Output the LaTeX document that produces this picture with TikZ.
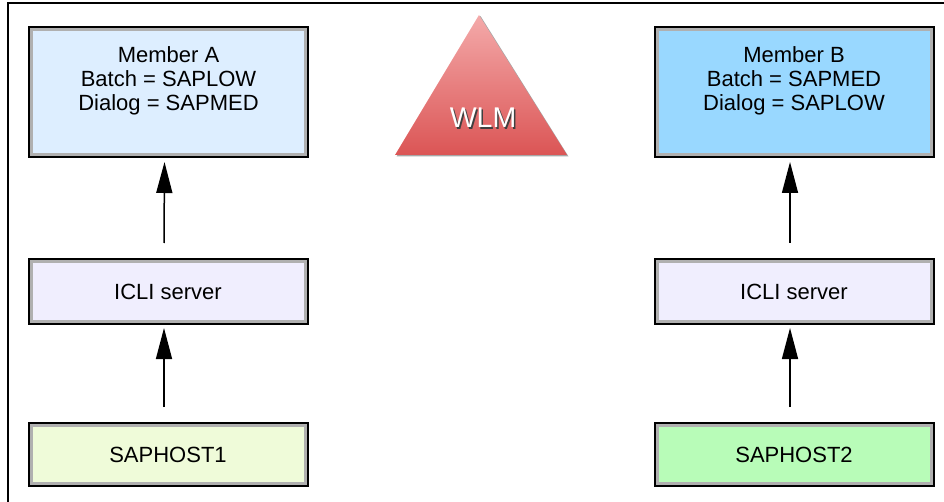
\documentclass[tikz,border=0pt]{standalone}
\usepackage{fontspec}
\setmainfont{Liberation Sans}
\usetikzlibrary{arrows.meta}

\definecolor{memAfill}{HTML}{DDEEFF}
\definecolor{memBfill}{HTML}{99D8FF}
\definecolor{iclifill}{HTML}{F0EEFE}
\definecolor{hostAfill}{HTML}{EFFBD9}
\definecolor{hostBfill}{HTML}{B8FCB8}
\definecolor{rimgray}{HTML}{B0B0B0}
\definecolor{wlmtop}{HTML}{F4AAAA}
\definecolor{wlmbot}{HTML}{DB5555}

\begin{document}
\begin{tikzpicture}[x=1pt, y=-1pt,
  box/.style={draw=black, line width=2pt, minimum width=279pt,
    path picture={\draw[line width=8pt, rimgray] (path picture bounding box.south west) rectangle (path picture bounding box.north east);}},
  boxtext/.style={align=center, font=\fontsize{22}{24}\selectfont},
  uparrow/.style={-{Triangle[length=31pt,width=16pt]}, line width=1.5pt}]

  \useasboundingbox (0,0) rectangle (944,502);

  % Frame
  \draw[line width=1.5pt] (8,502) -- (8,3) -- (944,3);

  % Left column
  \node[box, fill=memAfill, minimum height=130pt] (memA) at (168.5,92) {};
  \node[boxtext] (memAtxt) at ([yshift=11pt]memA.center) {Member A\\Batch = SAPLOW\\Dialog = SAPMED};
  \node[box, fill=iclifill, minimum height=65pt, boxtext] (icliA) at (168,291.5) {ICLI server};
  \node[box, fill=hostAfill, minimum height=63pt, boxtext] (hostA) at (168,454.5) {SAPHOST1};

  % Right column
  \node[box, fill=memBfill, minimum height=130pt] (memB) at (794,92) {};
  \node[boxtext] (memBtxt) at ([yshift=11pt]memB.center) {Member B\\Batch = SAPMED\\Dialog = SAPLOW};
  \node[box, fill=iclifill, minimum height=65pt, boxtext] (icliB) at (794,291.5) {ICLI server};
  \node[box, fill=hostBfill, minimum height=63pt, boxtext] (hostB) at (794,454.5) {SAPHOST2};

  % WLM triangle
  \fill[gray!70] (480.5,16) -- (568.5,156.5) -- (396.5,156.5) -- cycle;
  \shade[top color=wlmtop, bottom color=wlmbot] (479,15) -- (567,155) -- (395,155) -- cycle;
  \node[font=\fontsize{28.5}{30}\selectfont, text=black!75] (wlmshade) at (484.5,119.5) {WLM};
  \node[font=\fontsize{28.5}{30}\selectfont, text=white] (wlm) at (483,118) {WLM};

  % Arrows
  \draw[uparrow] ([xshift=-4pt,yshift=15pt]hostA.north) -- ([xshift=-4pt,yshift=-3pt]icliA.south);
  \draw[uparrow] ([xshift=-4pt,yshift=15pt]icliA.north) -- ([xshift=-4pt,yshift=-4pt]memA.south);
  \draw[uparrow] ([xshift=-4pt,yshift=15pt]hostB.north) -- ([xshift=-4pt,yshift=-3pt]icliB.south);
  \draw[uparrow] ([xshift=-4pt,yshift=15pt]icliB.north) -- ([xshift=-4pt,yshift=-4pt]memB.south);

\end{tikzpicture}
\end{document}
